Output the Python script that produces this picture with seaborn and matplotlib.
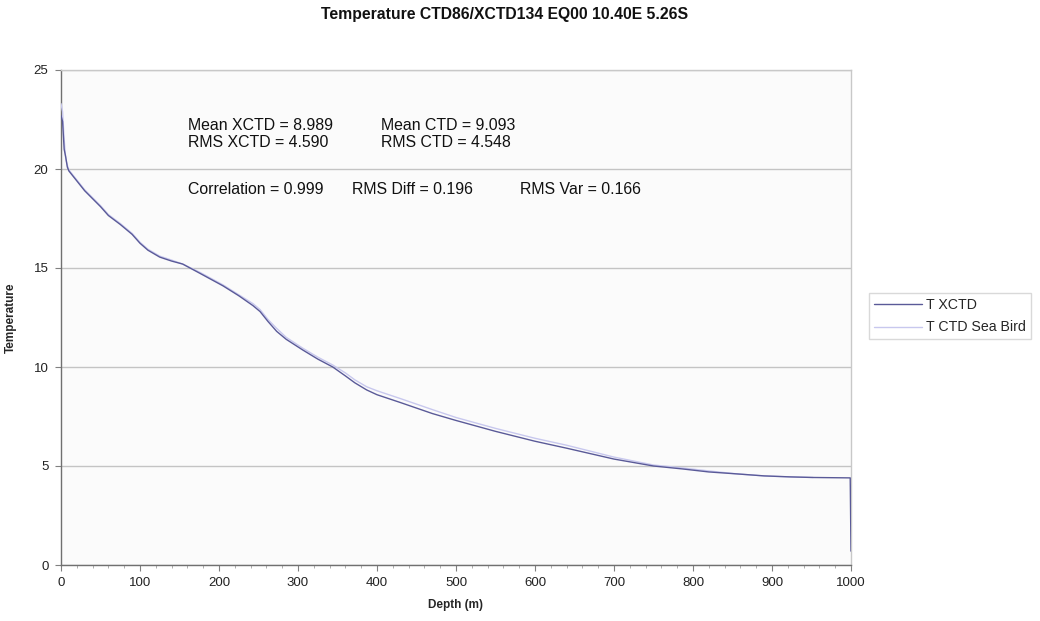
import numpy as np
import pandas as pd
import matplotlib
matplotlib.use("Agg")
import matplotlib.pyplot as plt
import seaborn as sns
from matplotlib.ticker import MultipleLocator

# ---- data ----
xctd_depth = [0, 2, 4, 6, 8, 10, 14, 20, 30, 40, 50, 60, 75, 90, 100, 110, 125, 140, 154,
              175, 205, 225, 243, 252, 262, 273, 285, 306, 325, 344, 360, 372, 387, 400, 430,
              470, 500, 550, 600, 640, 700, 750, 787, 820, 856, 890, 923, 952, 975, 999, 1000]
xctd_temp = [22.7, 22.4, 21.0, 20.6, 20.1, 19.9, 19.7, 19.4, 18.9, 18.5, 18.1, 17.65, 17.2,
             16.7, 16.25, 15.9, 15.55, 15.35, 15.2, 14.75, 14.1, 13.6, 13.1, 12.8, 12.3,
             11.8, 11.4, 10.86, 10.4, 10.0, 9.55, 9.2, 8.84, 8.6, 8.2, 7.65, 7.3, 6.75, 6.25,
             5.9, 5.35, 5.0, 4.85, 4.7, 4.6, 4.5, 4.45, 4.42, 4.41, 4.40, 0.7]
ctd_depth = [0, 2, 4, 6, 8, 10, 14, 20, 30, 40, 50, 60, 75, 90, 100, 110, 125, 140, 154,
             175, 205, 225, 243, 252, 262, 273, 285, 306, 325, 344, 360, 372, 387, 400, 430,
             470, 500, 550, 600, 640, 700, 750, 787, 820, 856, 890, 923, 952]
ctd_temp = [23.3, 22.9, 21.5, 20.5, 20.2, 19.95, 19.75, 19.45, 18.95, 18.55, 18.15, 17.7,
            17.25, 16.75, 16.3, 15.95, 15.6, 15.4, 15.2, 14.8, 14.15, 13.65, 13.2, 12.9,
            12.4, 11.95, 11.5, 10.95, 10.5, 10.1, 9.7, 9.35, 9.0, 8.8, 8.4, 7.85, 7.45, 6.9,
            6.4, 6.05, 5.45, 5.05, 4.9, 4.75, 4.6, 4.5, 4.45, 4.42]
series_names = ["T XCTD", "T CTD Sea Bird"]
title = "Temperature CTD86/XCTD134 EQ00 10.40E 5.26S"
stats_lines = [
    ("Mean XCTD = 8.989", 161, 22.2), ("Mean CTD = 9.093", 405, 22.2),
    ("RMS XCTD = 4.590", 161, 21.35), ("RMS CTD = 4.548", 405, 21.35),
    ("Correlation = 0.999", 161, 18.95), ("RMS Diff = 0.196", 368, 18.95),
    ("RMS Var = 0.166", 581, 18.95),
]

df = pd.concat([
    pd.DataFrame({"Depth": xctd_depth, "Temp": xctd_temp, "Series": series_names[0]}),
    pd.DataFrame({"Depth": ctd_depth, "Temp": ctd_temp, "Series": series_names[1]}),
], ignore_index=True)

sns.set_style("white")
plt.rcParams["font.family"] = ["Liberation Sans", "DejaVu Sans"]

fig = plt.figure(figsize=(10.4, 6.21), dpi=100)
ax = fig.add_axes([61/1040, 1-565/621, 790/1040, 495/621])
ax.set_facecolor("#fbfbfb")

xc, cc = "#5a5a98", "#c8c8ee"
palette = {series_names[0]: xc, series_names[1]: cc}
sns.lineplot(data=df, x="Depth", y="Temp", hue="Series", palette=palette, sort=False,
             estimator=None, ax=ax, linewidth=1.0)
for line in ax.get_lines():
    if line.get_color() == xc:
        line.set_zorder(4)
    else:
        line.set_zorder(3)

ax.set_xlim(0, 1000)
ax.set_ylim(0, 25)
ax.xaxis.set_major_locator(MultipleLocator(100))
ax.xaxis.set_minor_locator(MultipleLocator(20))
ax.yaxis.set_major_locator(MultipleLocator(5))
ax.yaxis.grid(True, color="#c4c4c4", linewidth=1.0)
ax.set_axisbelow(True)
ax.tick_params(axis="both", which="major", direction="out", length=4, width=0.8,
               color="#808080", labelsize=9.5, labelcolor="#222222", bottom=True, left=True,
               pad=5)
ax.tick_params(axis="x", which="minor", direction="out", length=2.5, width=0.6,
               color="#a0a0a0", bottom=True)
for s in ["left", "bottom"]:
    ax.spines[s].set_color("#707070")
    ax.spines[s].set_linewidth(1.0)
for s in ["top", "right"]:
    ax.spines[s].set_color("#c8c8c8")
    ax.spines[s].set_linewidth(1.0)

ax.set_xlabel("Depth (m)", fontsize=8.5, fontweight="bold", labelpad=7)
ax.set_ylabel("Temperature", fontsize=8.5, fontweight="bold", labelpad=12)
fig.text(0.4855, 1-15/621, title, ha="center", va="center", fontsize=11.3,
         fontweight="bold", color="#111111")

for txt, x, y in stats_lines:
    ax.text(x, y, txt, fontsize=11.4, ha="left", va="center", color="#111111", zorder=5)

handles, labels = ax.get_legend_handles_labels()
leg = ax.legend(handles, labels, loc="upper left",
                bbox_to_anchor=(869/1040, 1-293/621), bbox_transform=fig.transFigure,
                fontsize=10.2, frameon=True, fancybox=False, edgecolor="#d0d0d0",
                handlelength=3.4, handletextpad=0.3, borderpad=0.35, labelspacing=0.6,
                borderaxespad=0)
leg.get_frame().set_linewidth(1.0)

fig.savefig("out.png", dpi=100, facecolor="white")
